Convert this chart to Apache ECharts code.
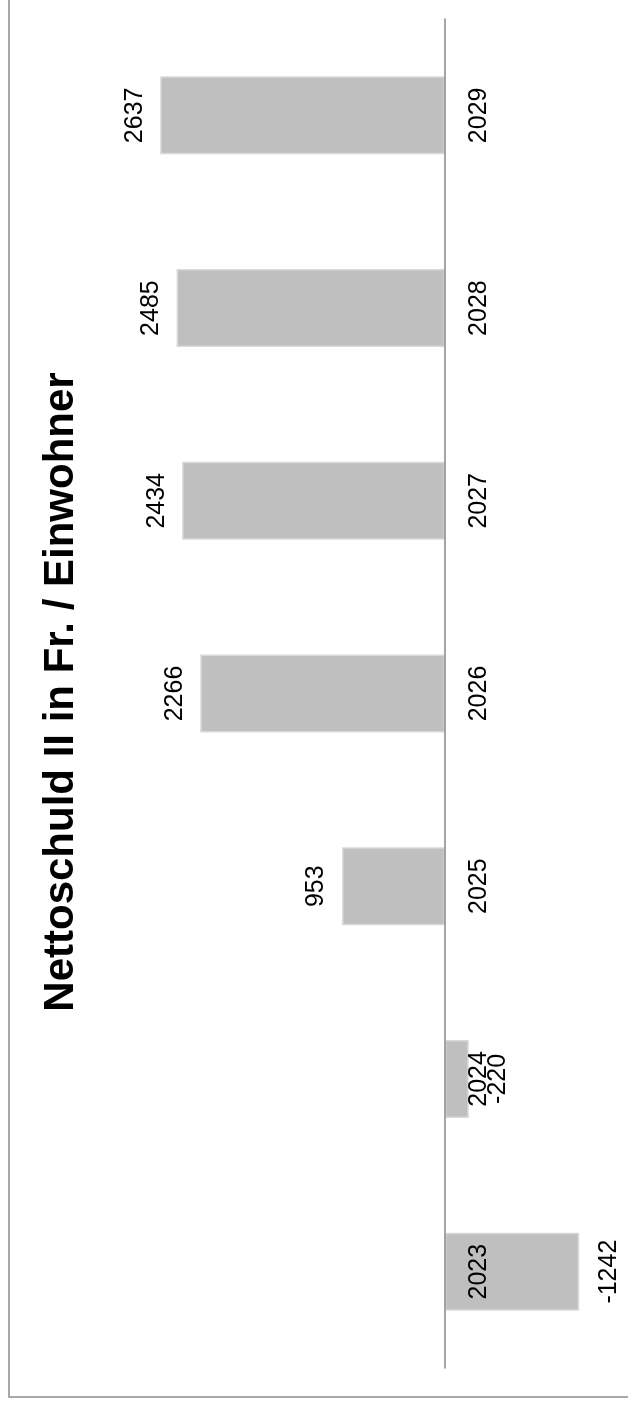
<!DOCTYPE html>
<html>
<head>
<meta charset="utf-8">
<script src="https://cdn.jsdelivr.net/npm/echarts@6/dist/echarts.min.js"></script>
<style>
html,body{margin:0;padding:0;background:#fff;}
#chart{width:628px;height:1408px;}
</style>
</head>
<body>
<div id="chart"></div>
<script>
const titleText = 'Nettoschuld II in Fr. / Einwohner';
const years = ['2023', '2024', '2025', '2026', '2027', '2028', '2029'];
const values = [-1242, -220, 953, 2266, 2434, 2485, 2637];

const chart = echarts.init(document.getElementById('chart'), null, {renderer: 'canvas'});

const labelFont = 'Liberation Sans';
const barData = values.map(function (v) {
  return {
    value: v,
    label: v >= 0
      ? {position: 'left', verticalAlign: 'bottom', align: 'center', distance: 13}
      : {position: 'right', verticalAlign: 'top', align: 'center', distance: 17}
  };
});

const gridLeft = 121, gridRight = 21, vMin = -1500, vMax = 3000;
const plotW = 628 - gridLeft - gridRight;
const zeroOffset = -(plotW * (0 - vMin) / (vMax - vMin));

chart.setOption({
  backgroundColor: '#fff',
  animation: false,
  grid: {left: gridLeft, right: gridRight, top: 19, bottom: 40, containLabel: false, outerBoundsMode: 'none'},
  xAxis: {
    type: 'value',
    inverse: true,
    min: vMin,
    max: vMax,
    show: false
  },
  yAxis: {
    type: 'category',
    data: years,
    position: 'right',
    offset: zeroOffset,
    z: 5,
    axisLine: {onZero: false, lineStyle: {color: '#898989', width: 1.5}},
    axisTick: {show: false},
    splitLine: {show: false},
    axisLabel: {
      rotate: 90,
      margin: 22,
      fontSize: 25,
      fontFamily: labelFont,
      color: '#000',
      hideOverlap: false
    }
  },
  series: [{
    type: 'bar',
    z: 2,
    data: barData,
    barWidth: 78,
    itemStyle: {color: '#bfbfbf', borderColor: '#d9d9d9', borderWidth: 1.5},
    label: {
      show: true,
      rotate: 90,
      fontSize: 25,
      fontFamily: labelFont,
      color: '#000'
    }
  }],
  graphic: [
    {
      type: 'rect',
      shape: {x: 9, y: -10, width: 700, height: 1407},
      style: {fill: 'none', stroke: '#8c8c8c', lineWidth: 1.5},
      silent: true
    },
    {
      type: 'text',
      x: 61,
      y: 692,
      rotation: Math.PI / 2,
      style: {
        text: titleText,
        fontSize: 42,
        fontWeight: 'bold',
        fontFamily: labelFont,
        fill: '#000',
        align: 'center',
        verticalAlign: 'middle'
      }
    }
  ]
});
</script>
</body>
</html>
